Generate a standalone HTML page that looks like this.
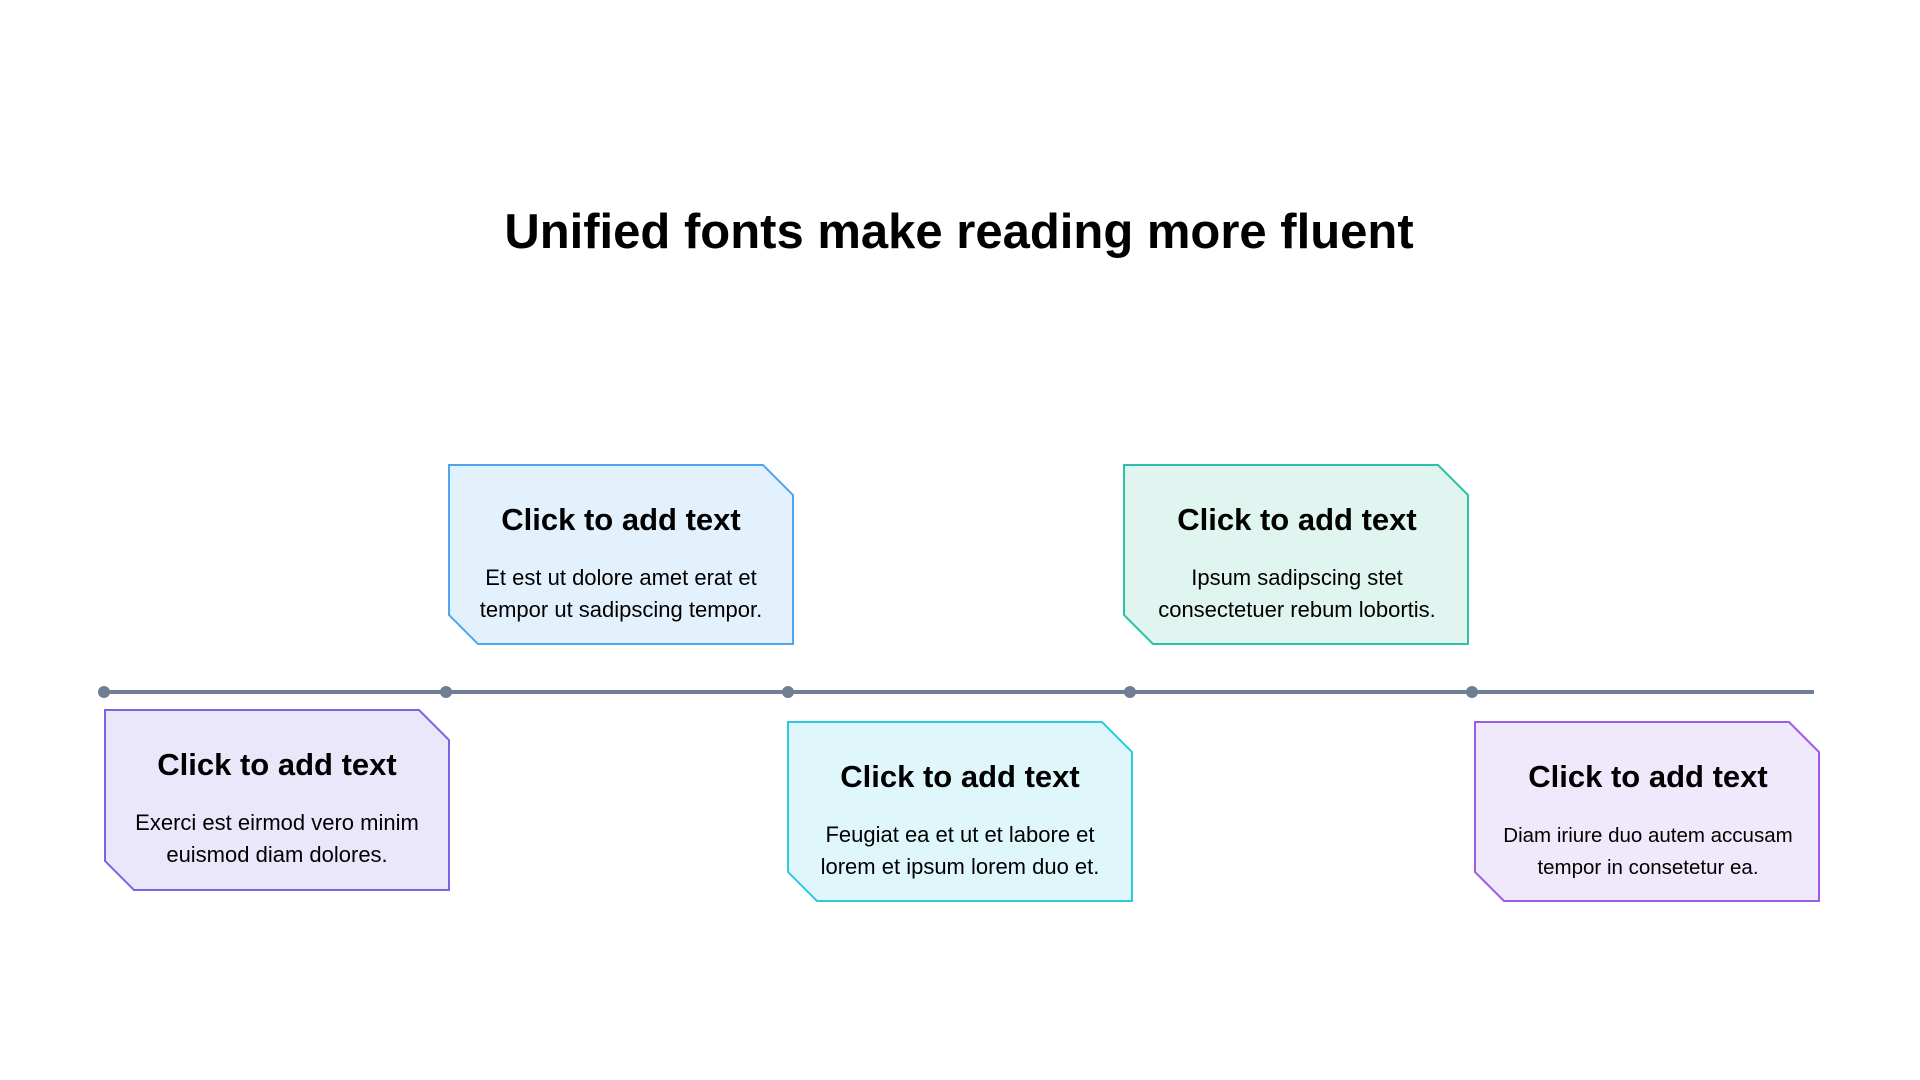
<!DOCTYPE html>
<html><head><style>
body{margin:0;background:#fff;}
svg{display:block;}
text{font-family:"Liberation Sans",sans-serif;fill:#000;}
.h{font-size:31px;font-weight:bold;text-anchor:middle;}
.b{font-size:22px;text-anchor:middle;}
</style></head><body>
<svg width="1920" height="1080" viewBox="0 0 1920 1080">
<text x="959" y="248" text-anchor="middle" style="font-size:49px;font-weight:bold">Unified fonts make reading more fluent</text>
<line x1="104" y1="692" x2="1814" y2="692" stroke="#6e7f95" stroke-width="4"/>
<g fill="#6e7f95"><circle cx="104" cy="692" r="6"/><circle cx="446" cy="692" r="6"/><circle cx="788" cy="692" r="6"/><circle cx="1130" cy="692" r="6"/><circle cx="1472" cy="692" r="6"/></g>
<g stroke-width="2">
<path d="M105 710 H419 L449 740 V890 H134 L105 861 Z" fill="#ebe7fa" stroke="#7b62e6"/>
<path d="M449 465 H763 L793 495 V644 H478 L449 615 Z" fill="#e3f1fd" stroke="#4ea6f3"/>
<path d="M788 722 H1102 L1132 752 V901 H817 L788 872 Z" fill="#dff7fb" stroke="#2ccbe0"/>
<path d="M1124 465 H1438 L1468 495 V644 H1153 L1124 615 Z" fill="#e0f5f0" stroke="#2dbfa9"/>
<path d="M1475 722 H1789 L1819 752 V901 H1504 L1475 872 Z" fill="#f0e8fb" stroke="#9b5ce6"/>
</g>
<text class="h" x="277" y="775">Click to add text</text>
<text class="b" x="277" y="830">Exerci est eirmod vero minim</text>
<text class="b" x="277" y="862">euismod diam dolores.</text>
<text class="h" x="621" y="530">Click to add text</text>
<text class="b" x="621" y="585">Et est ut dolore amet erat et</text>
<text class="b" x="621" y="617">tempor ut sadipscing tempor.</text>
<text class="h" x="960" y="787">Click to add text</text>
<text class="b" x="960" y="842">Feugiat ea et ut et labore et</text>
<text class="b" x="960" y="874">lorem et ipsum lorem duo et.</text>
<text class="h" x="1297" y="530">Click to add text</text>
<text class="b" x="1297" y="585">Ipsum sadipscing stet</text>
<text class="b" x="1297" y="617">consectetuer rebum lobortis.</text>
<text class="h" x="1648" y="787">Click to add text</text>
<text class="b" x="1648" y="842" style="font-size:20.5px">Diam iriure duo autem accusam</text>
<text class="b" x="1648" y="874" style="font-size:20.5px">tempor in consetetur ea.</text>
</svg>
</body></html>
